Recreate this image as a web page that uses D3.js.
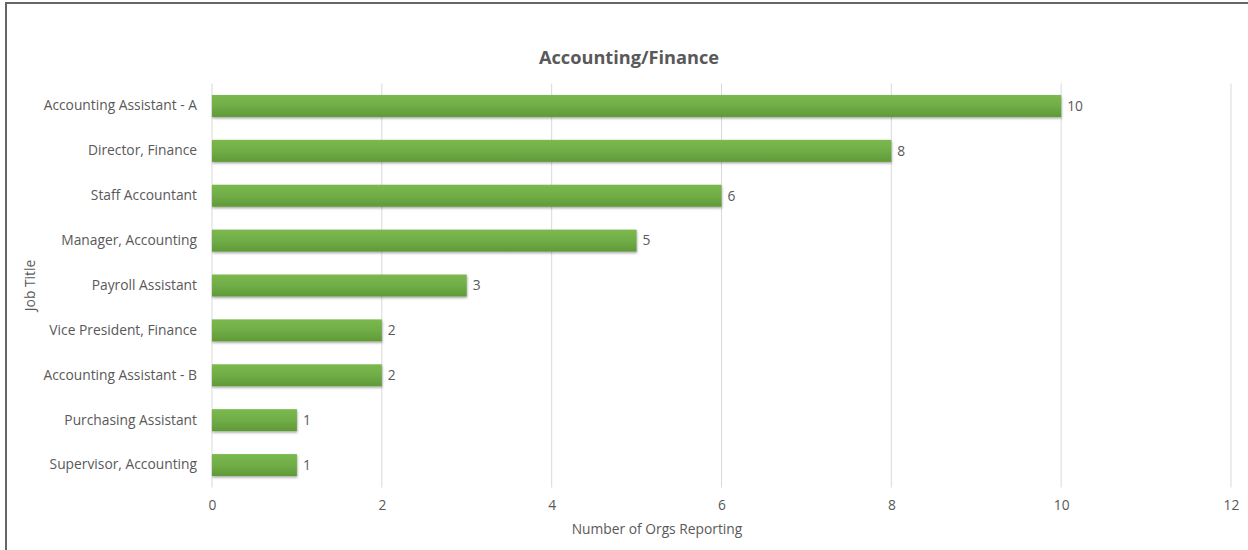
<!DOCTYPE html>
<html>
<head>
<meta charset="utf-8">
<script src="https://cdn.jsdelivr.net/npm/d3@7"></script>
<style>
  body { margin: 0; background: #fff; }
  svg text { font-family: "Open Sans", sans-serif; fill: #595959; }
</style>
</head>
<body>
<div id="chart"></div>
<script>
// Job titles, top to bottom
const jobTitles = [
  'Accounting Assistant - A',
  'Director, Finance',
  'Staff Accountant',
  'Manager, Accounting',
  'Payroll Assistant',
  'Vice President, Finance',
  'Accounting Assistant - B',
  'Purchasing Assistant',
  'Supervisor, Accounting',
];
const orgCounts = [10, 8, 6, 5, 3, 2, 2, 1, 1];
const xTicks = [0, 2, 4, 6, 8, 10, 12];

const width = 1248;
const height = 550;
const margin = { top: 83.5, right: 17, bottom: 62.5, left: 212 };
const fontFamily = '"Open Sans", sans-serif';
const labelSize = 13.8;

const svg = d3
  .select('#chart')
  .append('svg')
  .attr('width', width)
  .attr('height', height);

// outer frame
svg.append('path')
  .attr('d', `M6,${height} V3 H${width}`)
  .attr('fill', 'none')
  .attr('stroke', '#666')
  .attr('stroke-width', 2);

const defs = svg.append('defs');
const grad = defs.append('linearGradient')
  .attr('id', 'barGrad')
  .attr('x1', 0).attr('y1', 0).attr('x2', 0).attr('y2', 1);
grad.append('stop').attr('offset', '0%').attr('stop-color', '#7bb94f');
grad.append('stop').attr('offset', '50%').attr('stop-color', '#70ad47');
grad.append('stop').attr('offset', '100%').attr('stop-color', '#5f9a37');

const shadow = defs.append('filter').attr('id', 'shadow')
  .attr('x', '-5%').attr('y', '-20%').attr('width', '110%').attr('height', '160%');
shadow.append('feDropShadow')
  .attr('dx', 0.5).attr('dy', 1.5).attr('stdDeviation', 1)
  .attr('flood-color', '#000').attr('flood-opacity', 0.35);

const x = d3.scaleLinear()
  .domain([0, 12])
  .range([margin.left, width - margin.right]);

const y = d3.scaleBand()
  .domain(jobTitles)
  .range([margin.top, height - margin.bottom])
  .paddingInner(0.51)
  .paddingOuter(0.255);

// gridlines
svg.append('g')
  .selectAll('line')
  .data(xTicks)
  .join('line')
  .attr('x1', d => x(d)).attr('x2', d => x(d))
  .attr('y1', margin.top).attr('y2', height - margin.bottom)
  .attr('stroke', '#d9d9d9')
  .attr('stroke-width', 1);

// x axis
const xAxis = svg.append('g')
  .attr('transform', `translate(0,${height - margin.bottom})`)
  .call(d3.axisBottom(x).tickValues(xTicks).tickSize(0).tickPadding(13));
xAxis.select('.domain').remove();
xAxis.selectAll('text').attr('font-size', labelSize).style('fill', '#595959')
  .style('font-family', fontFamily);

// y axis
const yAxis = svg.append('g')
  .attr('transform', `translate(${margin.left},0)`)
  .call(d3.axisLeft(y).tickSize(0).tickPadding(15));
yAxis.select('.domain').remove();
yAxis.selectAll('text').attr('font-size', labelSize).style('fill', '#595959')
  .style('font-family', fontFamily);

// bars
svg.append('g')
  .selectAll('rect')
  .data(orgCounts)
  .join('rect')
  .attr('x', x(0))
  .attr('y', (d, i) => y(jobTitles[i]))
  .attr('width', d => x(d) - x(0))
  .attr('height', y.bandwidth())
  .attr('fill', 'url(#barGrad)')
  .attr('filter', 'url(#shadow)');

// value labels
svg.append('g')
  .selectAll('text')
  .data(orgCounts)
  .join('text')
  .attr('x', d => x(d) + 6)
  .attr('y', (d, i) => y(jobTitles[i]) + y.bandwidth() / 2)
  .attr('dy', '0.35em')
  .attr('font-size', labelSize)
  .text(d => d);

// title
svg.append('text')
  .attr('x', 629)
  .attr('y', 58)
  .attr('dy', '0.35em')
  .attr('text-anchor', 'middle')
  .attr('font-size', 18.2)
  .attr('font-weight', 'bold')
  .text('Accounting/Finance');

// axis titles
svg.append('text')
  .attr('x', 657)
  .attr('y', 529)
  .attr('dy', '0.35em')
  .attr('text-anchor', 'middle')
  .attr('font-size', labelSize)
  .text('Number of Orgs Reporting');

svg.append('text')
  .attr('transform', `translate(30,${(margin.top + height - margin.bottom) / 2}) rotate(-90)`)
  .attr('dy', '0.35em')
  .attr('text-anchor', 'middle')
  .attr('font-size', labelSize)
  .text('Job Title');
</script>
</body>
</html>
